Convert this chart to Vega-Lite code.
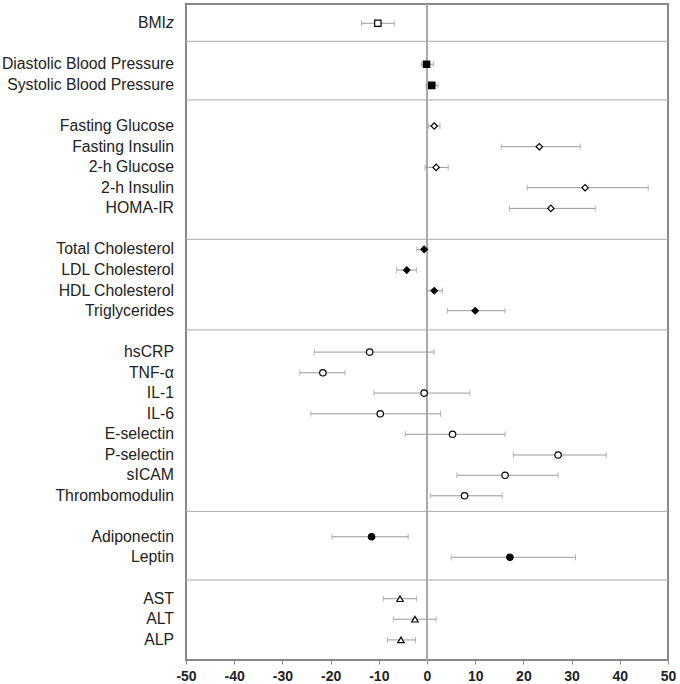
{
  "$schema": "https://vega.github.io/schema/vega-lite/v6.json",
  "width": 482,
  "height": 656,
  "autosize": "none",
  "padding": {"left": 186, "top": 4, "right": 12, "bottom": 24},
  "background": "white",
  "config": {
    "view": {"stroke": "#888", "strokeWidth": 2},
    "font": "Liberation Sans"
  },
  "datasets": {
    "rows": [
      {"label": "BMIz", "group": "Adiposity", "row": 0.94, "est": -10.2, "lo": -13.6, "hi": -6.8},
      {"label": "Diastolic Blood Pressure", "group": "Blood pressure", "row": 2.94, "est": -0.1, "lo": -1.2, "hi": 1.3},
      {"label": "Systolic Blood Pressure", "group": "Blood pressure", "row": 3.97, "est": 1.0, "lo": -0.2, "hi": 2.3},
      {"label": "Fasting Glucose", "group": "Glucose", "row": 5.95, "est": 1.5, "lo": 0.35, "hi": 2.7},
      {"label": "Fasting Insulin", "group": "Glucose", "row": 6.96, "est": 23.3, "lo": 15.4, "hi": 31.8},
      {"label": "2-h Glucose", "group": "Glucose", "row": 7.97, "est": 1.9, "lo": -0.4, "hi": 4.4},
      {"label": "2-h Insulin", "group": "Glucose", "row": 8.96, "est": 32.8, "lo": 20.8, "hi": 45.9},
      {"label": "HOMA-IR", "group": "Glucose", "row": 9.97, "est": 25.7, "lo": 17.1, "hi": 34.9},
      {"label": "Total Cholesterol", "group": "Lipids", "row": 11.97, "est": -0.6, "lo": -2.1, "hi": 0.2},
      {"label": "LDL Cholesterol", "group": "Lipids", "row": 12.98, "est": -4.2, "lo": -6.3, "hi": -2.2},
      {"label": "HDL Cholesterol", "group": "Lipids", "row": 13.99, "est": 1.5, "lo": -0.1, "hi": 3.2},
      {"label": "Triglycerides", "group": "Lipids", "row": 14.96, "est": 10.0, "lo": 4.2, "hi": 16.2},
      {"label": "hsCRP", "group": "Inflammation", "row": 16.98, "est": -11.9, "lo": -23.4, "hi": 1.45},
      {"label": "TNF-α", "group": "Inflammation", "row": 17.99, "est": -21.6, "lo": -26.4, "hi": -17.0},
      {"label": "IL-1", "group": "Inflammation", "row": 18.98, "est": -0.6, "lo": -11.0, "hi": 8.9},
      {"label": "IL-6", "group": "Inflammation", "row": 19.99, "est": -9.7, "lo": -24.1, "hi": 2.8},
      {"label": "E-selectin", "group": "Inflammation", "row": 20.99, "est": 5.3, "lo": -4.5, "hi": 16.2},
      {"label": "P-selectin", "group": "Inflammation", "row": 22.0, "est": 27.2, "lo": 17.9, "hi": 37.2},
      {"label": "sICAM", "group": "Inflammation", "row": 22.99, "est": 16.2, "lo": 6.2, "hi": 27.2},
      {"label": "Thrombomodulin", "group": "Inflammation", "row": 23.99, "est": 7.8, "lo": 0.7, "hi": 15.6},
      {"label": "Adiponectin", "group": "Adipokines", "row": 25.99, "est": -11.5, "lo": -19.7, "hi": -3.9},
      {"label": "Leptin", "group": "Adipokines", "row": 26.99, "est": 17.2, "lo": 5.0, "hi": 30.8},
      {"label": "AST", "group": "Liver", "row": 29.01, "est": -5.6, "lo": -9.1, "hi": -2.2},
      {"label": "ALT", "group": "Liver", "row": 30.01, "est": -2.5, "lo": -7.0, "hi": 1.9},
      {"label": "ALP", "group": "Liver", "row": 31.02, "est": -5.4, "lo": -8.2, "hi": -2.4}
    ],
    "seps": [
      {"row": 1.82}, {"row": 4.68}, {"row": 11.48}, {"row": 15.9}, {"row": 24.75}, {"row": 28.1}
    ]
  },
  "layer": [
    {
      "data": {"name": "seps"},
      "mark": {"type": "rule", "color": "#aaa", "strokeWidth": 1},
      "encoding": {
        "y": {"field": "row", "type": "quantitative", "scale": {"domain": [0, 32], "reverse": true, "nice": false, "zero": false}, "axis": null}
      }
    },
    {
      "data": {"name": "rows"},
      "mark": {"type": "rule", "color": "#aaa", "strokeWidth": 1.5},
      "encoding": {
        "x": {"datum": 0, "type": "quantitative"}
      }
    },
    {
      "data": {"name": "rows"},
      "mark": {"type": "errorbar", "ticks": {"size": 6, "color": "#999"}, "color": "#999", "thickness": 1},
      "encoding": {
        "x": {"field": "lo", "type": "quantitative"},
        "x2": {"field": "hi"},
        "y": {"field": "row", "type": "quantitative"}
      }
    },
    {
      "data": {"name": "rows"},
      "mark": {"type": "point", "filled": true, "stroke": "black", "strokeWidth": 1.2, "opacity": 1},
      "encoding": {
        "x": {"field": "est", "type": "quantitative", "scale": {"domain": [-50, 50], "nice": false, "zero": false},
          "axis": {"values": [-50, -40, -30, -20, -10, 0, 10, 20, 30, 40, 50], "title": null, "grid": false, "domain": false,
            "tickColor": "#888", "tickSize": 4, "labelFontWeight": "bold", "labelFontSize": 14, "labelColor": "#222",
            "labelPadding": 5, "labelFont": "Liberation Sans", "labelFlush": false, "labelExpr": "'' + datum.value"}},
        "y": {"field": "row", "type": "quantitative"},
        "shape": {"field": "group", "type": "nominal", "legend": null,
          "scale": {"domain": ["Adiposity", "Blood pressure", "Glucose", "Lipids", "Inflammation", "Adipokines", "Liver"],
            "range": ["square", "square", "diamond", "diamond", "circle", "circle", "triangle-up"]}},
        "fill": {"field": "group", "type": "nominal", "legend": null,
          "scale": {"domain": ["Adiposity", "Blood pressure", "Glucose", "Lipids", "Inflammation", "Adipokines", "Liver"],
            "range": ["white", "black", "white", "black", "white", "black", "white"]}},
        "size": {"field": "group", "type": "nominal", "legend": null,
          "scale": {"domain": ["Adiposity", "Blood pressure", "Glucose", "Lipids", "Inflammation", "Adipokines", "Liver"],
            "range": [40, 42, 34, 56, 62, 70, 62]}}
      }
    },
    {
      "data": {"name": "rows"},
      "transform": [{"filter": "datum.label !== 'BMIz'"}],
      "mark": {"type": "text", "align": "right", "baseline": "middle", "dx": -12, "fontSize": 15.8, "font": "Liberation Sans", "color": "#222"},
      "encoding": {
        "x": {"datum": -50, "type": "quantitative"},
        "y": {"field": "row", "type": "quantitative"},
        "text": {"field": "label"}
      }
    },
    {
      "data": {"name": "rows"},
      "transform": [{"filter": "datum.label === 'BMIz'"}],
      "mark": {"type": "text", "align": "right", "baseline": "middle", "dx": -20, "fontSize": 15.8, "font": "Liberation Sans", "color": "#222", "text": "BMI"},
      "encoding": {
        "x": {"datum": -50, "type": "quantitative"},
        "y": {"field": "row", "type": "quantitative"}
      }
    },
    {
      "data": {"name": "rows"},
      "transform": [{"filter": "datum.label === 'BMIz'"}],
      "mark": {"type": "text", "align": "right", "baseline": "middle", "dx": -12, "fontSize": 15.8, "font": "Liberation Sans", "fontStyle": "italic", "color": "#222", "text": "z"},
      "encoding": {
        "x": {"datum": -50, "type": "quantitative"},
        "y": {"field": "row", "type": "quantitative"}
      }
    }
  ]
}
